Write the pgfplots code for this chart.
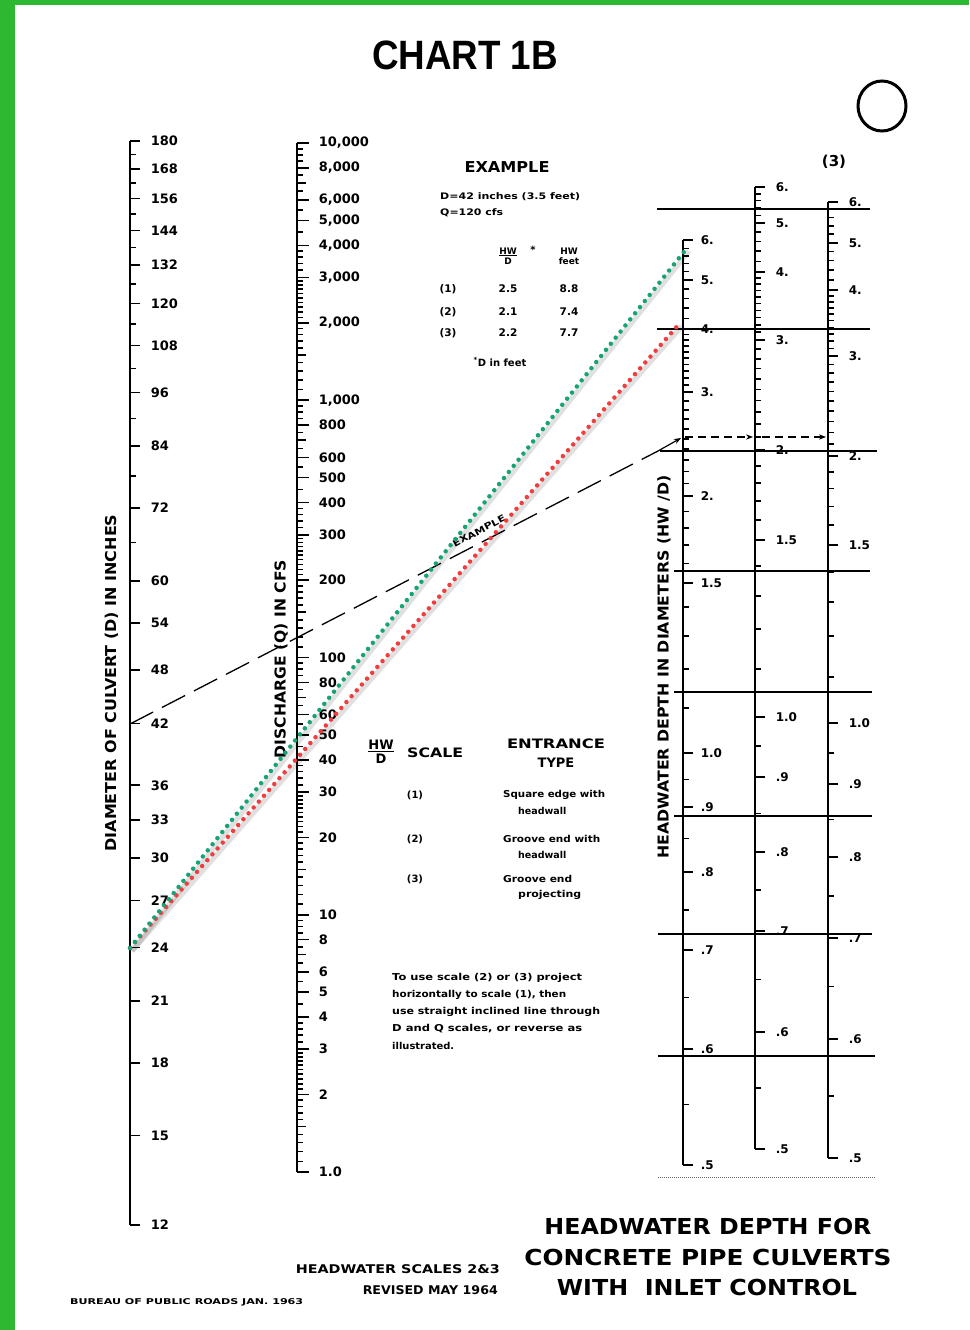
\documentclass[border=0pt]{standalone}
\usepackage{pgfplots}
\pgfplotsset{compat=1.18}
\usepackage{fontspec}
\setmainfont{DejaVu Sans}
\newfontfamily\lib{Liberation Sans}
\usepackage{graphicx}
\usetikzlibrary{arrows.meta}
\definecolor{bordergreen}{RGB}{44,184,48}
\definecolor{dotgreen}{RGB}{22,163,120}
\definecolor{dotred}{RGB}{240,62,62}
\newcommand\fitw[2]{\resizebox{#1}{\height}{#2}}
\newcommand\bfs[1]{\fontsize{#1}{#1}\selectfont\bfseries}
\pgfplotsset{
  base/.style={width=969pt,height=1330pt,scale only axis,xmin=0,xmax=969,hide axis,clip=false},
  tk/.style={only marks, mark=-, mark options={line width=1.6pt, black}},
  lbl/.style 2 args={nodes near coords, point meta=explicit symbolic,
     nodes near coords align={horizontal},
     every node near coord/.append style={anchor=west, inner sep=0pt, font=\bfs{#2}, xshift=#1, text=black}},
  scl/.style={black, line width=1.8pt},
  gl/.style={black, line width=1.3pt},
}
\begin{document}
\begin{tikzpicture}
% ---------------- pixel axis: background, HW/D scales, text
\begin{axis}[base, ymin=0, ymax=1330, y dir=reverse]
\fill[white] (axis cs:0,0) rectangle (axis cs:969,1330);
\fill[bordergreen] (axis cs:0,0) rectangle (axis cs:15,1330);
\fill[bordergreen] (axis cs:0,0) rectangle (axis cs:969,5);
% horizontal guide lines
\addplot[gl] coordinates {(657,209) (870,209)};
\addplot[gl] coordinates {(657,329) (870,329)};
\addplot[gl] coordinates {(660,451) (877,451)};
\addplot[gl] coordinates {(674,571) (870,571)};
\addplot[gl] coordinates {(674,692) (872,692)};
\addplot[gl] coordinates {(674,816) (872,816)};
\addplot[gl] coordinates {(658,934) (872,934)};
\addplot[gl] coordinates {(658,1056) (875,1056)};
\addplot[black!60, line width=1pt, densely dotted] coordinates {(658,1177) (875,1177)};
% scale (1)
\addplot[scl] coordinates {(683,240) (683,1165)};
\addplot[tk, mark size=5pt, lbl={12pt}{12}] table[meta=l] {
x y l
688 240 6.
688 280 5.
688 329 4.
688 392 3.
688 496 2.
688 583 1.5
688 753 1.0
688 807 .9
688 872 .8
688 950 .7
688 1049 .6
688 1165 .5
};
\addplot[tk, mark size=3pt] coordinates {(686,248.3) (686,255.8) (686,263.5) (686,271.6) (686,289.0) (686,298.3) (686,308.1) (686,318.3) (686,334.5) (686,340.2) (686,346.1) (686,352.1) (686,358.2) (686,364.6) (686,371.1) (686,377.9) (686,384.8) (686,400.7) (686,409.7) (686,419.0) (686,428.7) (686,438.8) (686,449.2) (686,460.2) (686,471.6) (686,483.5) (686,511.5) (686,527.9) (686,545.2) (686,563.5) (686,607) (686,636) (686,669) (686,708) (686,779.3) (686,838.5) (686,909.7) (686,997.6) (686,1104.4)};
% scale (2)
\addplot[scl] coordinates {(755,187) (755,1149)};
\addplot[tk, mark size=5pt, lbl={15pt}{12}] table[meta=l] {
x y l
760 187 6.
760 223 5.
760 272 4.
760 340 3.
760 450 2.
760 540 1.5
760 717 1.0
760 777 .9
760 852 .8
760 931 .7
760 1032 .6
760 1149 .5
};
\addplot[tk, mark size=3pt] coordinates {(758,193.7) (758,200.6) (758,207.8) (758,215.3) (758,232.0) (758,241.3) (758,251.1) (758,261.3) (758,278.0) (758,284.1) (758,290.4) (758,296.9) (758,303.6) (758,310.4) (758,317.5) (758,324.8) (758,332.2) (758,349.2) (758,358.7) (758,368.6) (758,378.8) (758,389.5) (758,400.5) (758,412.1) (758,424.2) (758,436.8) (758,466.0) (758,482.9) (758,500.9) (758,519.8) (758,566) (758,596) (758,629) (758,669) (758,746.2) (758,813.4) (758,890.2) (758,979.6) (758,1087.8)};
% scale (3)
\addplot[scl] coordinates {(828,202) (828,1158)};
\addplot[tk, mark size=5pt, lbl={15pt}{12}] table[meta=l] {
x y l
833 202 6.
833 243 5.
833 290 4.
833 356 3.
833 456 2.
833 545 1.5
833 723 1.0
833 784 .9
833 857 .8
833 938 .7
833 1039 .6
833 1158 .5
};
\addplot[tk, mark size=3pt] coordinates {(831,209.6) (831,217.5) (831,225.7) (831,234.2) (831,251.6) (831,260.6) (831,269.9) (831,279.7) (831,295.8) (831,301.7) (831,307.9) (831,314.2) (831,320.6) (831,327.3) (831,334.2) (831,341.2) (831,348.5) (831,364.4) (831,373.0) (831,382.0) (831,391.3) (831,401.0) (831,411.0) (831,421.5) (831,432.5) (831,444.0) (831,471.8) (831,488.6) (831,506.3) (831,525.1) (831,572) (831,602) (831,636) (831,677) (831,752.7) (831,819.4) (831,896.1) (831,986.6) (831,1095.8)};
% example dashed line and arrows
\addplot[black, line width=1.3pt, dash pattern=on 26pt off 10pt] coordinates {(130,724) (658,451)};
\addplot[black, line width=1.2pt, -{Stealth[length=7pt]}] coordinates {(658,451) (681,438)};
\addplot[black, line width=1.2pt, dash pattern=on 8pt off 5pt, -{Stealth[length=7pt]}] coordinates {(685,437) (753,437)};
\addplot[black, line width=1.2pt, dash pattern=on 8pt off 5pt, -{Stealth[length=7pt]}] coordinates {(762,437) (826,437)};
% texts
\node at (axis cs:465,55) {\fitw{186pt}{\lib\fontsize{41}{41}\selectfont\bfseries CHART 1B}};
\draw[line width=3pt] (axis cs:882,106) ellipse [x radius=24pt, y radius=25pt];
\node at (axis cs:834,162) {\bfs{15}(3)};
\node at (axis cs:507,167) {\fitw{85pt}{\bfs{15}EXAMPLE}};
\node[anchor=west, inner sep=0pt] at (axis cs:440,197) {\fitw{140pt}{\bfs{9}D=42 inches (3.5 feet)}};
\node[anchor=west, inner sep=0pt] at (axis cs:440,213) {\fitw{63pt}{\bfs{9}Q=120 cfs}};
\node[align=center, font=\bfs{9}, inner sep=0pt] at (axis cs:508,256) {\underline{HW}\\[1pt]D};
\node[font=\bfs{10}] at (axis cs:533,250) {*};
\node[align=center, font=\bfs{9}, inner sep=0pt] at (axis cs:569,256) {HW\\[1pt]feet};
\node[font=\bfs{10.5}] at (axis cs:448,289) {(1)};
\node[font=\bfs{10.5}] at (axis cs:508,289) {2.5};
\node[font=\bfs{10.5}] at (axis cs:569,289) {8.8};
\node[font=\bfs{10.5}] at (axis cs:448,312) {(2)};
\node[font=\bfs{10.5}] at (axis cs:508,312) {2.1};
\node[font=\bfs{10.5}] at (axis cs:569,312) {7.4};
\node[font=\bfs{10.5}] at (axis cs:448,333) {(3)};
\node[font=\bfs{10.5}] at (axis cs:508,333) {2.2};
\node[font=\bfs{10.5}] at (axis cs:569,333) {7.7};
\node[font=\bfs{10}] at (axis cs:500,362) {\textsuperscript{*}D in feet};
% HW/D scale legend
\node[align=center, font=\bfs{13}, inner sep=0pt] at (axis cs:381,752) {\underline{HW}\\[1pt]D};
\node[anchor=west, inner sep=0pt] at (axis cs:407,753) {\fitw{56pt}{\bfs{13}SCALE}};
\node at (axis cs:556,744) {\fitw{98pt}{\bfs{13}ENTRANCE}};
\node at (axis cs:556,763) {\bfs{13}TYPE};
\node[font=\bfs{10}] at (axis cs:415,795) {(1)};
\node[font=\bfs{10}] at (axis cs:415,839) {(2)};
\node[font=\bfs{10}] at (axis cs:415,879) {(3)};
\node[anchor=west, inner sep=0pt] at (axis cs:503,795) {\fitw{102pt}{\bfs{9.5}Square edge with}};
\node[anchor=west, inner sep=0pt] at (axis cs:518,811) {\bfs{9.5}headwall};
\node[anchor=west, inner sep=0pt] at (axis cs:503,839) {\fitw{97pt}{\bfs{9.5}Groove end with}};
\node[anchor=west, inner sep=0pt] at (axis cs:518,855) {\bfs{9.5}headwall};
\node[anchor=west, inner sep=0pt] at (axis cs:503,879) {\fitw{69pt}{\bfs{9.5}Groove end}};
\node[anchor=west, inner sep=0pt] at (axis cs:518,895) {\fitw{63pt}{\bfs{9.5}projecting}};
% instructions
\node[anchor=west, inner sep=0pt] at (axis cs:392,978) {\fitw{190pt}{\bfs{9.5}To use scale (2) or (3) project}};
\node[anchor=west, inner sep=0pt] at (axis cs:392,995) {\fitw{174pt}{\bfs{9.5}horizontally to scale (1), then}};
\node[anchor=west, inner sep=0pt] at (axis cs:392,1012) {\fitw{208pt}{\bfs{9.5}use straight inclined line through}};
\node[anchor=west, inner sep=0pt] at (axis cs:392,1029) {\fitw{190pt}{\bfs{9.5}D and Q scales, or reverse as}};
\node[anchor=west, inner sep=0pt] at (axis cs:392,1046) {\fitw{62pt}{\bfs{9.5}illustrated.}};
% axis titles
\node[rotate=90] at (axis cs:112,683) {\fitw{337pt}{\bfs{15}DIAMETER OF CULVERT (D) IN INCHES}};
\node[rotate=90] at (axis cs:281,659) {\fitw{198pt}{\bfs{15}DISCHARGE (Q) IN CFS}};
\node[rotate=90] at (axis cs:664,667) {\fitw{383pt}{\bfs{15}HEADWATER DEPTH IN DIAMETERS (HW /D)}};
\node[rotate=28] at (axis cs:479,531) {\fitw{58pt}{\bfs{9}EXAMPLE}};
% bottom
\node at (axis cs:708,1226) {\fitw{327pt}{\bfs{22}HEADWATER DEPTH FOR}};
\node at (axis cs:708,1257) {\fitw{367pt}{\bfs{22}CONCRETE PIPE CULVERTS}};
\node at (axis cs:707,1287) {\fitw{300pt}{\bfs{22}WITH\ \ INLET CONTROL}};
\node[anchor=east, inner sep=0pt] at (axis cs:500,1269) {\fitw{204pt}{\bfs{12}HEADWATER SCALES 2\&3}};
\node[anchor=east, inner sep=0pt] at (axis cs:498,1290) {\fitw{135pt}{\bfs{12}REVISED MAY 1964}};
\node[anchor=west, inner sep=0pt] at (axis cs:70,1302) {\fitw{233pt}{\bfs{8}BUREAU OF PUBLIC ROADS JAN. 1963}};
\end{axis}
% ---------------- D scale (log)
\begin{axis}[base, ymode=log, ymin=9.231, ymax=256.07]
\addplot[scl] coordinates {(130,12) (130,180)};
\addplot[tk, mark size=5pt, lbl={15pt}{13}] table[meta=l] {
x y l
135 180 180
135 168 168
135 156 156
135 144 144
135 132 132
135 120 120
135 108 108
135 96 96
135 84 84
135 72 72
135 60 60
135 54 54
135 48 48
135 42 42
135 36 36
135 33 33
135 30 30
135 27 27
135 24 24
135 21 21
135 18 18
135 15 15
135 12 12
};
\addplot[tk, mark size=3pt] coordinates {(133,174) (133,162) (133,150) (133,138) (133,126) (133,114) (133,102) (133,90) (133,78) (133,66)};
\end{axis}
% ---------------- Q scale (log)
\begin{axis}[base, ymode=log, ymin=0.24311, ymax=35965]
\addplot[scl] coordinates {(297,1) (297,10000)};
\addplot[tk, mark size=6pt, lbl={15pt}{13}] table[meta=l] {
x y l
303 10000 10,000
303 8000 8,000
303 6000 6,000
303 5000 5,000
303 4000 4,000
303 3000 3,000
303 2000 2,000
303 1000 1,000
303 800 800
303 600 600
303 500 500
303 400 400
303 300 300
303 200 200
303 100 100
303 80 80
303 60 60
303 50 50
303 40 40
303 30 30
303 20 20
303 10 10
303 8 8
303 6 6
303 5 5
303 4 4
303 3 3
303 2 2
303 1 1.0
};
\addplot[tk, mark size=4.5pt] coordinates {(301.5,1.5) (301.5,7) (301.5,15) (301.5,70) (301.5,150) (301.5,700) (301.5,1500) (301.5,7000)};
\addplot[tk, mark size=3pt] coordinates {
(300,1.1) (300,1.2) (300,1.3) (300,1.4) (300,1.6) (300,1.7) (300,1.8) (300,1.9) (300,2.1) (300,2.2) (300,2.3) (300,2.4) (300,2.5) (300,2.6) (300,2.7) (300,2.8) (300,2.9) (300,3.2) (300,3.4) (300,3.6) (300,3.8) (300,4.5) (300,5.5) (300,6.5) (300,7.5) (300,8.5) (300,9) (300,9.5)
(300,11) (300,12) (300,13) (300,14) (300,16) (300,17) (300,18) (300,19) (300,21) (300,22) (300,23) (300,24) (300,25) (300,26) (300,27) (300,28) (300,29) (300,32) (300,34) (300,36) (300,38) (300,45) (300,55) (300,65) (300,75) (300,85) (300,90) (300,95)
(300,110) (300,120) (300,130) (300,140) (300,160) (300,170) (300,180) (300,190) (300,210) (300,220) (300,230) (300,240) (300,250) (300,260) (300,270) (300,280) (300,290) (300,320) (300,340) (300,360) (300,380) (300,450) (300,550) (300,650) (300,750) (300,850) (300,900) (300,950)
(300,1100) (300,1200) (300,1300) (300,1400) (300,1600) (300,1700) (300,1800) (300,1900) (300,2100) (300,2200) (300,2300) (300,2400) (300,2500) (300,2600) (300,2700) (300,2800) (300,2900) (300,3200) (300,3400) (300,3600) (300,3800) (300,4500) (300,5500) (300,6500) (300,7500) (300,8500) (300,9000) (300,9500)};
\end{axis}
% ---------------- coloured solution lines
\begin{axis}[base, ymin=0, ymax=1330, y dir=reverse]
\addplot[black, opacity=0.12, line width=5pt] coordinates {(132,951) (682,326)};
\addplot[black, opacity=0.12, line width=5pt] coordinates {(132,951) (689,251)};
\addplot[dotred, line width=4.5pt, line cap=round, dash pattern=on 0pt off 7.8pt] coordinates {(130,948) (680,323)};
\addplot[dotgreen, line width=4.5pt, line cap=round, dash pattern=on 0pt off 7.8pt] coordinates {(130,948) (687,248)};
\end{axis}
\end{tikzpicture}
\end{document}
